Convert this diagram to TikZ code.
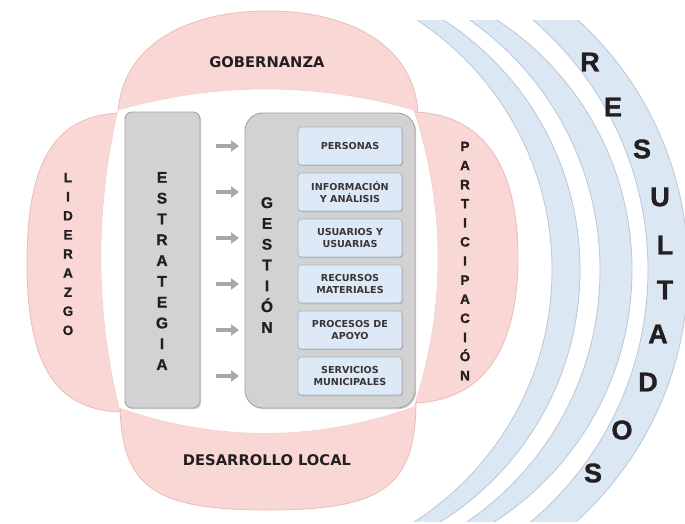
\documentclass[tikz,border=0pt]{standalone}
\usepackage{fontspec}
\setmainfont{Liberation Sans}
\newfontfamily\dvs{DejaVu Sans}
\newfontfamily\heavy[FakeBold=1.2]{Liberation Sans Bold}
\usetikzlibrary{arrows.meta,shadows}
\definecolor{petal}{HTML}{F8D7D5}
\definecolor{petaledge}{HTML}{ECBCB9}
\definecolor{band}{HTML}{DCE7F4}
\definecolor{bandedge}{HTML}{B7C7DA}
\definecolor{boxgray}{HTML}{D2D2D2}
\definecolor{boxedge}{HTML}{A3A3A3}
\definecolor{subfill}{HTML}{DDE9F6}
\definecolor{subedge}{HTML}{A9B4C0}
\definecolor{arrowgray}{HTML}{A8A8A8}
\definecolor{ink}{HTML}{231F20}
\begin{document}
\begin{tikzpicture}[x=1pt,y=-1pt,
  petalsty/.style={fill=petal,draw=petaledge,line width=0.8pt},
  bandsty/.style={fill=band},
  bandline/.style={draw=bandedge,line width=0.8pt},
  graybox/.style={draw=boxedge,fill=boxgray,line width=0.9pt,
    drop shadow={shadow xshift=1.2pt,shadow yshift=-1.2pt,opacity=0.3,fill=black!60}},
  subbox/.style={draw=subedge,fill=subfill,line width=0.7pt,rounded corners=3pt,
    minimum width=104pt,minimum height=38pt,inner sep=0pt,align=center,text=ink!90,
    font={\dvs\fontsize{9.6}{12.5}\selectfont\bfseries},
    drop shadow={shadow xshift=1pt,shadow yshift=-1.2pt,opacity=0.35,fill=black!50}},
  bigv/.style={align=center,inner sep=0pt,text=ink,
    font={\heavy\fontsize{15.5}{20.8}\selectfont}},
  sidev/.style={align=center,inner sep=0pt,text=ink,
    font={\heavy\fontsize{13.5}{19.1}\selectfont}},
  lab/.style={inner sep=0pt,text=ink,font={\dvs\fontsize{14.7}{17}\selectfont\bfseries}},
  resl/.style={inner sep=0pt,text=ink,font={\heavy\fontsize{27}{30}\selectfont}},
  grayarrow/.style={draw=arrowgray,line width=4pt,-{Triangle[length=8pt,width=11pt]}}
]
\useasboundingbox (0,0) rectangle (685,523);
\fill[white] (0,0) rectangle (685,523);

% ---- RESULTADOS bands ----
\begin{scope}
  \clip (400,20) rectangle (700,521);
  \fill[bandsty,even odd rule] (253,270) circle[radius=299pt] (283,270) circle[radius=297pt];
  \fill[bandsty,even odd rule] (295,270) circle[radius=305pt] (333,270) circle[radius=299pt];
  \fill[bandsty,even odd rule] (319,270) circle[radius=329pt] (349,270) circle[radius=339pt];
  \draw[bandline] (253,270) circle[radius=299pt];
  \draw[bandline] (283,270) circle[radius=297pt];
  \draw[bandline] (295,270) circle[radius=305pt];
  \draw[bandline] (333,270) circle[radius=299pt];
  \draw[bandline] (319,270) circle[radius=329pt];
  \draw[bandline] (349,270) circle[radius=339pt];
\end{scope}
\clip (0,0) rectangle (685,523);

% ---- petals ----
\filldraw[petalsty] (118,118) .. controls (118,52) and (178,11) .. (268,11)
  .. controls (358,11) and (418,52) .. (418,118) -- cycle;
\filldraw[petalsty] (125,113) .. controls (57,113) and (27,158) .. (27,262.5)
  .. controls (27,367) and (57,412) .. (125,412) -- cycle;
\filldraw[petalsty] (410,112) .. controls (481,112) and (518,163) .. (518,257.5)
  .. controls (518,352) and (481,403) .. (410,403) -- cycle;
\filldraw[petalsty] (120,400) .. controls (120,487) and (153,510) .. (268,510)
  .. controls (383,510) and (416,487) .. (416,400) -- cycle;

% ---- white centre ----
\filldraw[fill=white,draw=petaledge!70,line width=0.6pt]
  (118,110) .. controls (216.7,82) and (315.3,82) .. (414,110)
  .. controls (446,209) and (446,308) .. (414,407)
  .. controls (315,442) and (217,442) .. (119,408)
  .. controls (95,309) and (95,209) .. cycle;

% ---- labels on petals ----
\node[lab] (gob) at (267,62) {GOBERNANZA};
\node[lab] (des) at (267,460) {DESARROLLO LOCAL};
\node[sidev] (lid) at (68,254) {L\\I\\D\\E\\R\\A\\Z\\G\\O};
\node[sidev] (par) at (465,261) {P\\A\\R\\T\\I\\C\\I\\P\\A\\C\\I\\Ó\\N};

% ---- main boxes ----
\node[graybox,rounded corners=7pt,minimum width=75pt,minimum height=296pt] (estrbox) at (162.5,260) {};
\node[graybox,rounded corners=18pt,minimum width=170pt,minimum height=295pt] (gestbox) at (330,260.5) {};
\node[bigv] (estr) at (162,271) {E\\S\\T\\R\\A\\T\\E\\G\\I\\A};
\node[bigv] (gest) at (267,265) {G\\E\\S\\T\\I\\Ó\\N};

% ---- sub boxes ----
\foreach \t [count=\i] in {PERSONAS,{INFORMACIÓN\\Y ANÁLISIS},{USUARIOS Y\\USUARIAS},{RECURSOS\\MATERIALES},{PROCESOS DE\\APOYO},{SERVICIOS\\MUNICIPALES}}{
  \node[subbox] (s\i) at (350,100+46*\i) {\t};
}

% ---- arrows ----
\foreach \i in {1,...,6}{
  \coordinate (as\i) at (216,100+46*\i);
  \coordinate (ae\i) at (239,100+46*\i);
  \draw[grayarrow] (as\i) -- (ae\i);
}

% ---- RESULTADOS letters ----
\foreach \l/\x/\y [count=\i] in {R/590/62,E/613/107,S/642/149,U/660/197,L/665/245,T/665/290,A/658/334,D/648/382,O/622/430,S/593/473}{
  \node[resl] (r\i) at (\x,\y) {\l};
}
\end{tikzpicture}
\end{document}
